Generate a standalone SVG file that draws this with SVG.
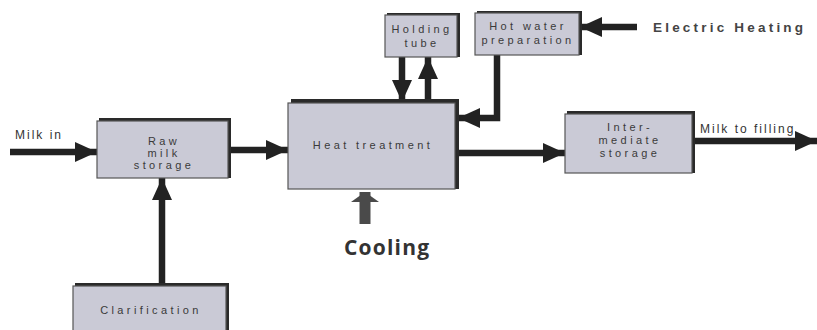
<svg xmlns="http://www.w3.org/2000/svg" width="817" height="330" viewBox="0 0 817 330">
<style>
.box{fill:#cacad6;stroke:#555;stroke-width:1.2}
.sh{fill:#2a2a2a}
.t{font-family:"Liberation Sans",Arial,sans-serif;font-size:11px;letter-spacing:3.4px;fill:#3a3a3a;text-anchor:middle}
.lbl{font-family:"Liberation Sans",Arial,sans-serif;font-size:12px;letter-spacing:2px;fill:#333}
.arr{stroke:#222;stroke-width:6.5;fill:none;marker-end:url(#ah)}
</style>
<defs>
<marker id="ah" markerUnits="userSpaceOnUse" markerWidth="24" markerHeight="20" refX="22" refY="10" orient="auto">
<path d="M0,0 L22,10 L0,20 Z" fill="#222"/>
</marker>
<marker id="ahg" markerUnits="userSpaceOnUse" markerWidth="12" markerHeight="28" refX="10" refY="14" orient="auto">
<path d="M0,0 L10,14 L0,28 Z" fill="#4a4a4a"/>
</marker>
</defs>
<rect width="817" height="330" fill="#ffffff"/>
<g id="connectors">
<line class="arr" x1="10" y1="152" x2="97" y2="152"/>
<line class="arr" x1="229" y1="150" x2="288" y2="150"/>
<line class="arr" x1="162" y1="285" x2="162" y2="178"/>
<line class="arr" x1="402" y1="57" x2="402" y2="102"/>
<line class="arr" x1="428" y1="102" x2="428" y2="57"/>
<polyline class="arr" points="497,55 497,118 458,118"/>
<line class="arr" x1="637" y1="27" x2="580" y2="27"/>
<line class="arr" x1="458" y1="153" x2="565" y2="153"/>
<line class="arr" x1="694" y1="141" x2="817" y2="141"/>
<line x1="365" y1="224" x2="365" y2="192" stroke="#4a4a4a" stroke-width="11" marker-end="url(#ahg)"/>
<text class="lbl" x="15" y="139">Milk in</text>
<text class="lbl" x="700" y="133">Milk to filling</text>
<text x="653" y="32" font-family="Liberation Sans,Arial,sans-serif" font-size="13.5" font-weight="bold" fill="#444" letter-spacing="3.2">Electric Heating</text>
<text x="344" y="255" font-family="Open Sans,Liberation Sans,sans-serif" font-size="21" font-weight="bold" fill="#333" letter-spacing="1.2">Cooling</text>
</g>
<g id="raw">
<rect class="sh" x="99" y="118" width="132" height="60"/>
<rect class="box" x="97" y="121" width="131" height="57"/>
<text class="t" x="164" y="145">Raw</text>
<text class="t" x="164" y="157">milk</text>
<text class="t" x="164" y="169">storage</text>
</g>
<g id="heat">
<rect class="sh" x="291" y="99" width="168" height="90"/>
<rect class="box" x="288" y="103" width="167" height="86"/>
<text class="t" x="373" y="149">Heat treatment</text>
</g>
<g id="holding">
<rect class="sh" x="387" y="13" width="73" height="44"/>
<rect class="box" x="385" y="15" width="72" height="42"/>
<text class="t" x="422" y="33">Holding</text>
<text class="t" x="422" y="47">tube</text>
</g>
<g id="hotwater">
<rect class="sh" x="477" y="11" width="105" height="44"/>
<rect class="box" x="475" y="13" width="104" height="42"/>
<text class="t" x="528" y="30">Hot water</text>
<text class="t" x="528" y="44">preparation</text>
</g>
<g id="intermediate">
<rect class="sh" x="567" y="111" width="128" height="62"/>
<rect class="box" x="565" y="114" width="127" height="59"/>
<text class="t" x="630" y="131">Inter-</text>
<text class="t" x="630" y="144">mediate</text>
<text class="t" x="630" y="157">storage</text>
</g>
<g id="clarification">
<rect class="sh" x="75" y="283" width="154" height="50"/>
<rect class="box" x="73" y="286" width="153" height="47"/>
<text class="t" x="151" y="314">Clarification</text>
</g>
</svg>
